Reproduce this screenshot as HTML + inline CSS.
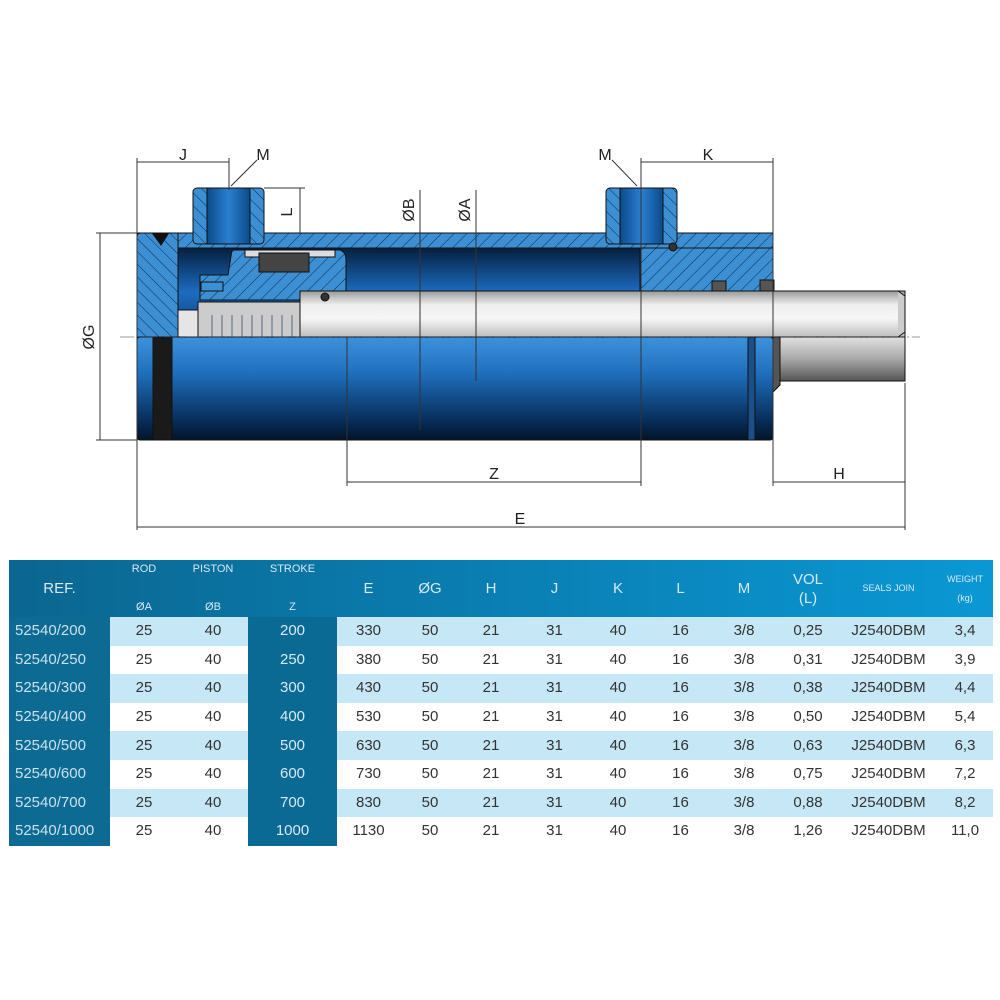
<!DOCTYPE html>
<html><head><meta charset="utf-8"><style>
body{margin:0;width:1000px;height:1000px;background:#fff;position:relative;overflow:hidden;font-family:"Liberation Sans",sans-serif}
svg{position:absolute;left:0;top:0}
table{position:absolute;left:9px;top:560px;border-collapse:collapse;table-layout:fixed;width:984px}
td{padding:0;text-align:center;font-size:15px;color:#333;height:28.6px;line-height:26px}
thead td{height:52px;color:#d6e9f4;background:transparent;line-height:19px}
thead tr{background:linear-gradient(90deg,#0b6690,#0a7fb3 50%,#0a98d4)}
td.ref{background:#0d6a93;color:#c9e1ee;text-align:left;padding-left:6px}
td.st{background:#0a6a94;color:#d6e9f4}
tr.l td{background:#c6e7f6}
tr.l td.ref{background:#0d6a93}tr.l td.st{background:#0a6a94}
.s{font-size:11px}
</style></head><body>
<svg width="1000" height="560" viewBox="0 0 1000 560">
<defs>
<pattern id="h" patternUnits="userSpaceOnUse" width="9" height="9" patternTransform="rotate(45)">
<rect width="9" height="9" fill="#3d8fd4"/><line x1="0" y1="0" x2="0" y2="9" stroke="#0b2a4a" stroke-width="1"/></pattern>
<pattern id="h2" patternUnits="userSpaceOnUse" width="9" height="9" patternTransform="rotate(-45)">
<rect width="9" height="9" fill="#3d8fd4"/><line x1="0" y1="0" x2="0" y2="9" stroke="#0b2a4a" stroke-width="1"/></pattern>
<linearGradient id="body" x1="0" y1="0" x2="0" y2="1"><stop offset="0" stop-color="#3d92dc"/><stop offset=".35" stop-color="#1f6fbd"/><stop offset=".8" stop-color="#082f5c"/><stop offset="1" stop-color="#031428"/></linearGradient>
<linearGradient id="inner" x1="0" y1="0" x2="0" y2="1"><stop offset="0" stop-color="#04203f"/><stop offset=".5" stop-color="#1d6cc0"/><stop offset="1" stop-color="#0a3b70"/></linearGradient>
<linearGradient id="rod" x1="0" y1="0" x2="0" y2="1"><stop offset="0" stop-color="#9a9a9a"/><stop offset=".3" stop-color="#eeeeee"/><stop offset=".6" stop-color="#f6f6f6"/><stop offset="1" stop-color="#bdbdbd"/></linearGradient>
<linearGradient id="rod2" x1="0" y1="0" x2="0" y2="1"><stop offset="0" stop-color="#e0e0e0"/><stop offset=".5" stop-color="#a8a8a8"/><stop offset="1" stop-color="#555"/></linearGradient>
<linearGradient id="thr" x1="0" y1="0" x2="1" y2="0"><stop offset="0" stop-color="#0b4a8a"/><stop offset=".5" stop-color="#2b7fd0"/><stop offset="1" stop-color="#0b4a8a"/></linearGradient>
</defs>
<g stroke="#111" stroke-width="1">
<rect x="137" y="337" width="636" height="103" rx="3" fill="url(#body)"/>
<rect x="153" y="337" width="19" height="103" fill="#1a1a1a"/>
<rect x="748" y="337" width="7" height="103" fill="#1a4f8a"/>
<rect x="178" y="248" width="462" height="89" fill="url(#inner)"/>
<rect x="137" y="233" width="636" height="15" fill="url(#h)"/>
<path d="M137 237 Q137 233 141 233 L178 233 L178 337 L137 337 Z" fill="url(#h2)"/>
<path d="M153 234 L168 234 L161 245 Z" fill="#111"/>
<path d="M232 250 L340 250 Q346 252 346 260 L346 291 L300 291 L300 300 L200 300 L200 275 L228 275 Z" fill="url(#h)"/>
<rect x="245" y="250" width="90" height="7" fill="#ddd"/>
<rect x="259" y="253" width="50" height="19" fill="#444"/>
<rect x="201" y="282" width="22" height="9" fill="#3d8fd4"/>
<path d="M640 248 L773 248 L773 291 L640 291 Z" fill="url(#h)"/>
<rect x="300" y="291" width="605" height="46" fill="url(#rod)"/>
<path d="M898 291 L905 296 L905 332 L898 337" fill="#ccc"/>
<rect x="178" y="310" width="20" height="27" fill="#e5e5e5"/>
<rect x="198" y="302" width="102" height="35" fill="#ccc"/>
<rect x="773" y="337" width="132" height="44" fill="url(#rod2)"/>
<path d="M773 337 L780 337 L780 385 L773 392 Z" fill="#555"/>
<rect x="193" y="188" width="71" height="56" rx="4" fill="url(#h2)"/>
<rect x="207" y="188" width="43" height="56" fill="url(#thr)"/>
<rect x="606" y="188" width="71" height="56" rx="4" fill="url(#h2)"/>
<rect x="620" y="188" width="43" height="56" fill="url(#thr)"/>
<circle cx="325" cy="297" r="4" fill="#333"/><circle cx="673" cy="247" r="4" fill="#333"/>
<rect x="712" y="281" width="14" height="10" fill="#555"/><rect x="760" y="280" width="14" height="11" fill="#555"/>
</g>
<g stroke="#0b2a4a" stroke-width="1" opacity=".6">
<line x1="212" y1="315" x2="212" y2="337"/><line x1="222" y1="315" x2="222" y2="337"/><line x1="232" y1="315" x2="232" y2="337"/><line x1="242" y1="315" x2="242" y2="337"/><line x1="252" y1="315" x2="252" y2="337"/><line x1="262" y1="315" x2="262" y2="337"/><line x1="272" y1="315" x2="272" y2="337"/><line x1="282" y1="315" x2="282" y2="337"/><line x1="292" y1="315" x2="292" y2="337"/>
</g>
<g stroke="#333" stroke-width="1" fill="none">
<line x1="137" y1="158" x2="137" y2="530"/><line x1="229" y1="158" x2="229" y2="190"/>
<line x1="137" y1="162" x2="229" y2="162"/>
<line x1="641" y1="158" x2="641" y2="486"/><line x1="773" y1="158" x2="773" y2="486"/>
<line x1="641" y1="162" x2="773" y2="162"/>
<line x1="264" y1="188" x2="305" y2="188"/><line x1="300" y1="188" x2="300" y2="233"/>
<line x1="420" y1="190" x2="420" y2="430"/><line x1="476" y1="190" x2="476" y2="381"/>
<line x1="96" y1="233" x2="137" y2="233"/><line x1="96" y1="440" x2="137" y2="440"/><line x1="100" y1="233" x2="100" y2="440"/>
<line x1="347" y1="337" x2="347" y2="486"/><line x1="347" y1="482" x2="641" y2="482"/>
<line x1="905" y1="383" x2="905" y2="530"/><line x1="773" y1="482" x2="905" y2="482"/>
<line x1="137" y1="527" x2="905" y2="527"/>
<line x1="257" y1="160" x2="231" y2="186"/><line x1="612" y1="160" x2="637" y2="186"/>
<line x1="120" y1="337" x2="920" y2="337" stroke-dasharray="14 3 2 3" stroke-width=".6"/>
</g>
<g font-family="Liberation Sans,sans-serif" font-size="16" fill="#222" text-anchor="middle">
<text x="183" y="160">J</text><text x="263" y="160">M</text><text x="605" y="160">M</text><text x="708" y="160">K</text>
<text x="494" y="479">Z</text><text x="839" y="479">H</text><text x="520" y="524">E</text>
<text transform="translate(292,212) rotate(-90)">L</text>
<text transform="translate(414,210) rotate(-90)">ØB</text>
<text transform="translate(470,210) rotate(-90)">ØA</text>
<text transform="translate(94,337) rotate(-90)">ØG</text>
</g>
</svg>
<table>
<colgroup><col style="width:101px"><col style="width:68px"><col style="width:70px"><col style="width:89px"><col style="width:63px"><col style="width:60px"><col style="width:62px"><col style="width:65px"><col style="width:62px"><col style="width:63px"><col style="width:64px"><col style="width:64px"><col style="width:97px"><col style="width:56px"></colgroup>
<thead><tr><td style="text-align:center">REF.</td><td class="s">ROD<br><br>ØA</td><td class="s">PISTON<br><br>ØB</td><td class="s">STROKE<br><br>Z</td><td>E</td><td>ØG</td><td>H</td><td>J</td><td>K</td><td>L</td><td>M</td><td>VOL<br>(L)</td><td class="s" style="font-size:9px">SEALS JOIN</td><td style="font-size:9px">WEIGHT<br>(kg)</td></tr></thead>
<tbody>
<tr class="l"><td class="ref">52540/200</td><td>25</td><td>40</td><td class="st">200</td><td>330</td><td>50</td><td>21</td><td>31</td><td>40</td><td>16</td><td>3/8</td><td>0,25</td><td>J2540DBM</td><td>3,4</td></tr>
<tr><td class="ref">52540/250</td><td>25</td><td>40</td><td class="st">250</td><td>380</td><td>50</td><td>21</td><td>31</td><td>40</td><td>16</td><td>3/8</td><td>0,31</td><td>J2540DBM</td><td>3,9</td></tr>
<tr class="l"><td class="ref">52540/300</td><td>25</td><td>40</td><td class="st">300</td><td>430</td><td>50</td><td>21</td><td>31</td><td>40</td><td>16</td><td>3/8</td><td>0,38</td><td>J2540DBM</td><td>4,4</td></tr>
<tr><td class="ref">52540/400</td><td>25</td><td>40</td><td class="st">400</td><td>530</td><td>50</td><td>21</td><td>31</td><td>40</td><td>16</td><td>3/8</td><td>0,50</td><td>J2540DBM</td><td>5,4</td></tr>
<tr class="l"><td class="ref">52540/500</td><td>25</td><td>40</td><td class="st">500</td><td>630</td><td>50</td><td>21</td><td>31</td><td>40</td><td>16</td><td>3/8</td><td>0,63</td><td>J2540DBM</td><td>6,3</td></tr>
<tr><td class="ref">52540/600</td><td>25</td><td>40</td><td class="st">600</td><td>730</td><td>50</td><td>21</td><td>31</td><td>40</td><td>16</td><td>3/8</td><td>0,75</td><td>J2540DBM</td><td>7,2</td></tr>
<tr class="l"><td class="ref">52540/700</td><td>25</td><td>40</td><td class="st">700</td><td>830</td><td>50</td><td>21</td><td>31</td><td>40</td><td>16</td><td>3/8</td><td>0,88</td><td>J2540DBM</td><td>8,2</td></tr>
<tr><td class="ref">52540/1000</td><td>25</td><td>40</td><td class="st">1000</td><td>1130</td><td>50</td><td>21</td><td>31</td><td>40</td><td>16</td><td>3/8</td><td>1,26</td><td>J2540DBM</td><td>11,0</td></tr>
</tbody></table>
</body></html>
